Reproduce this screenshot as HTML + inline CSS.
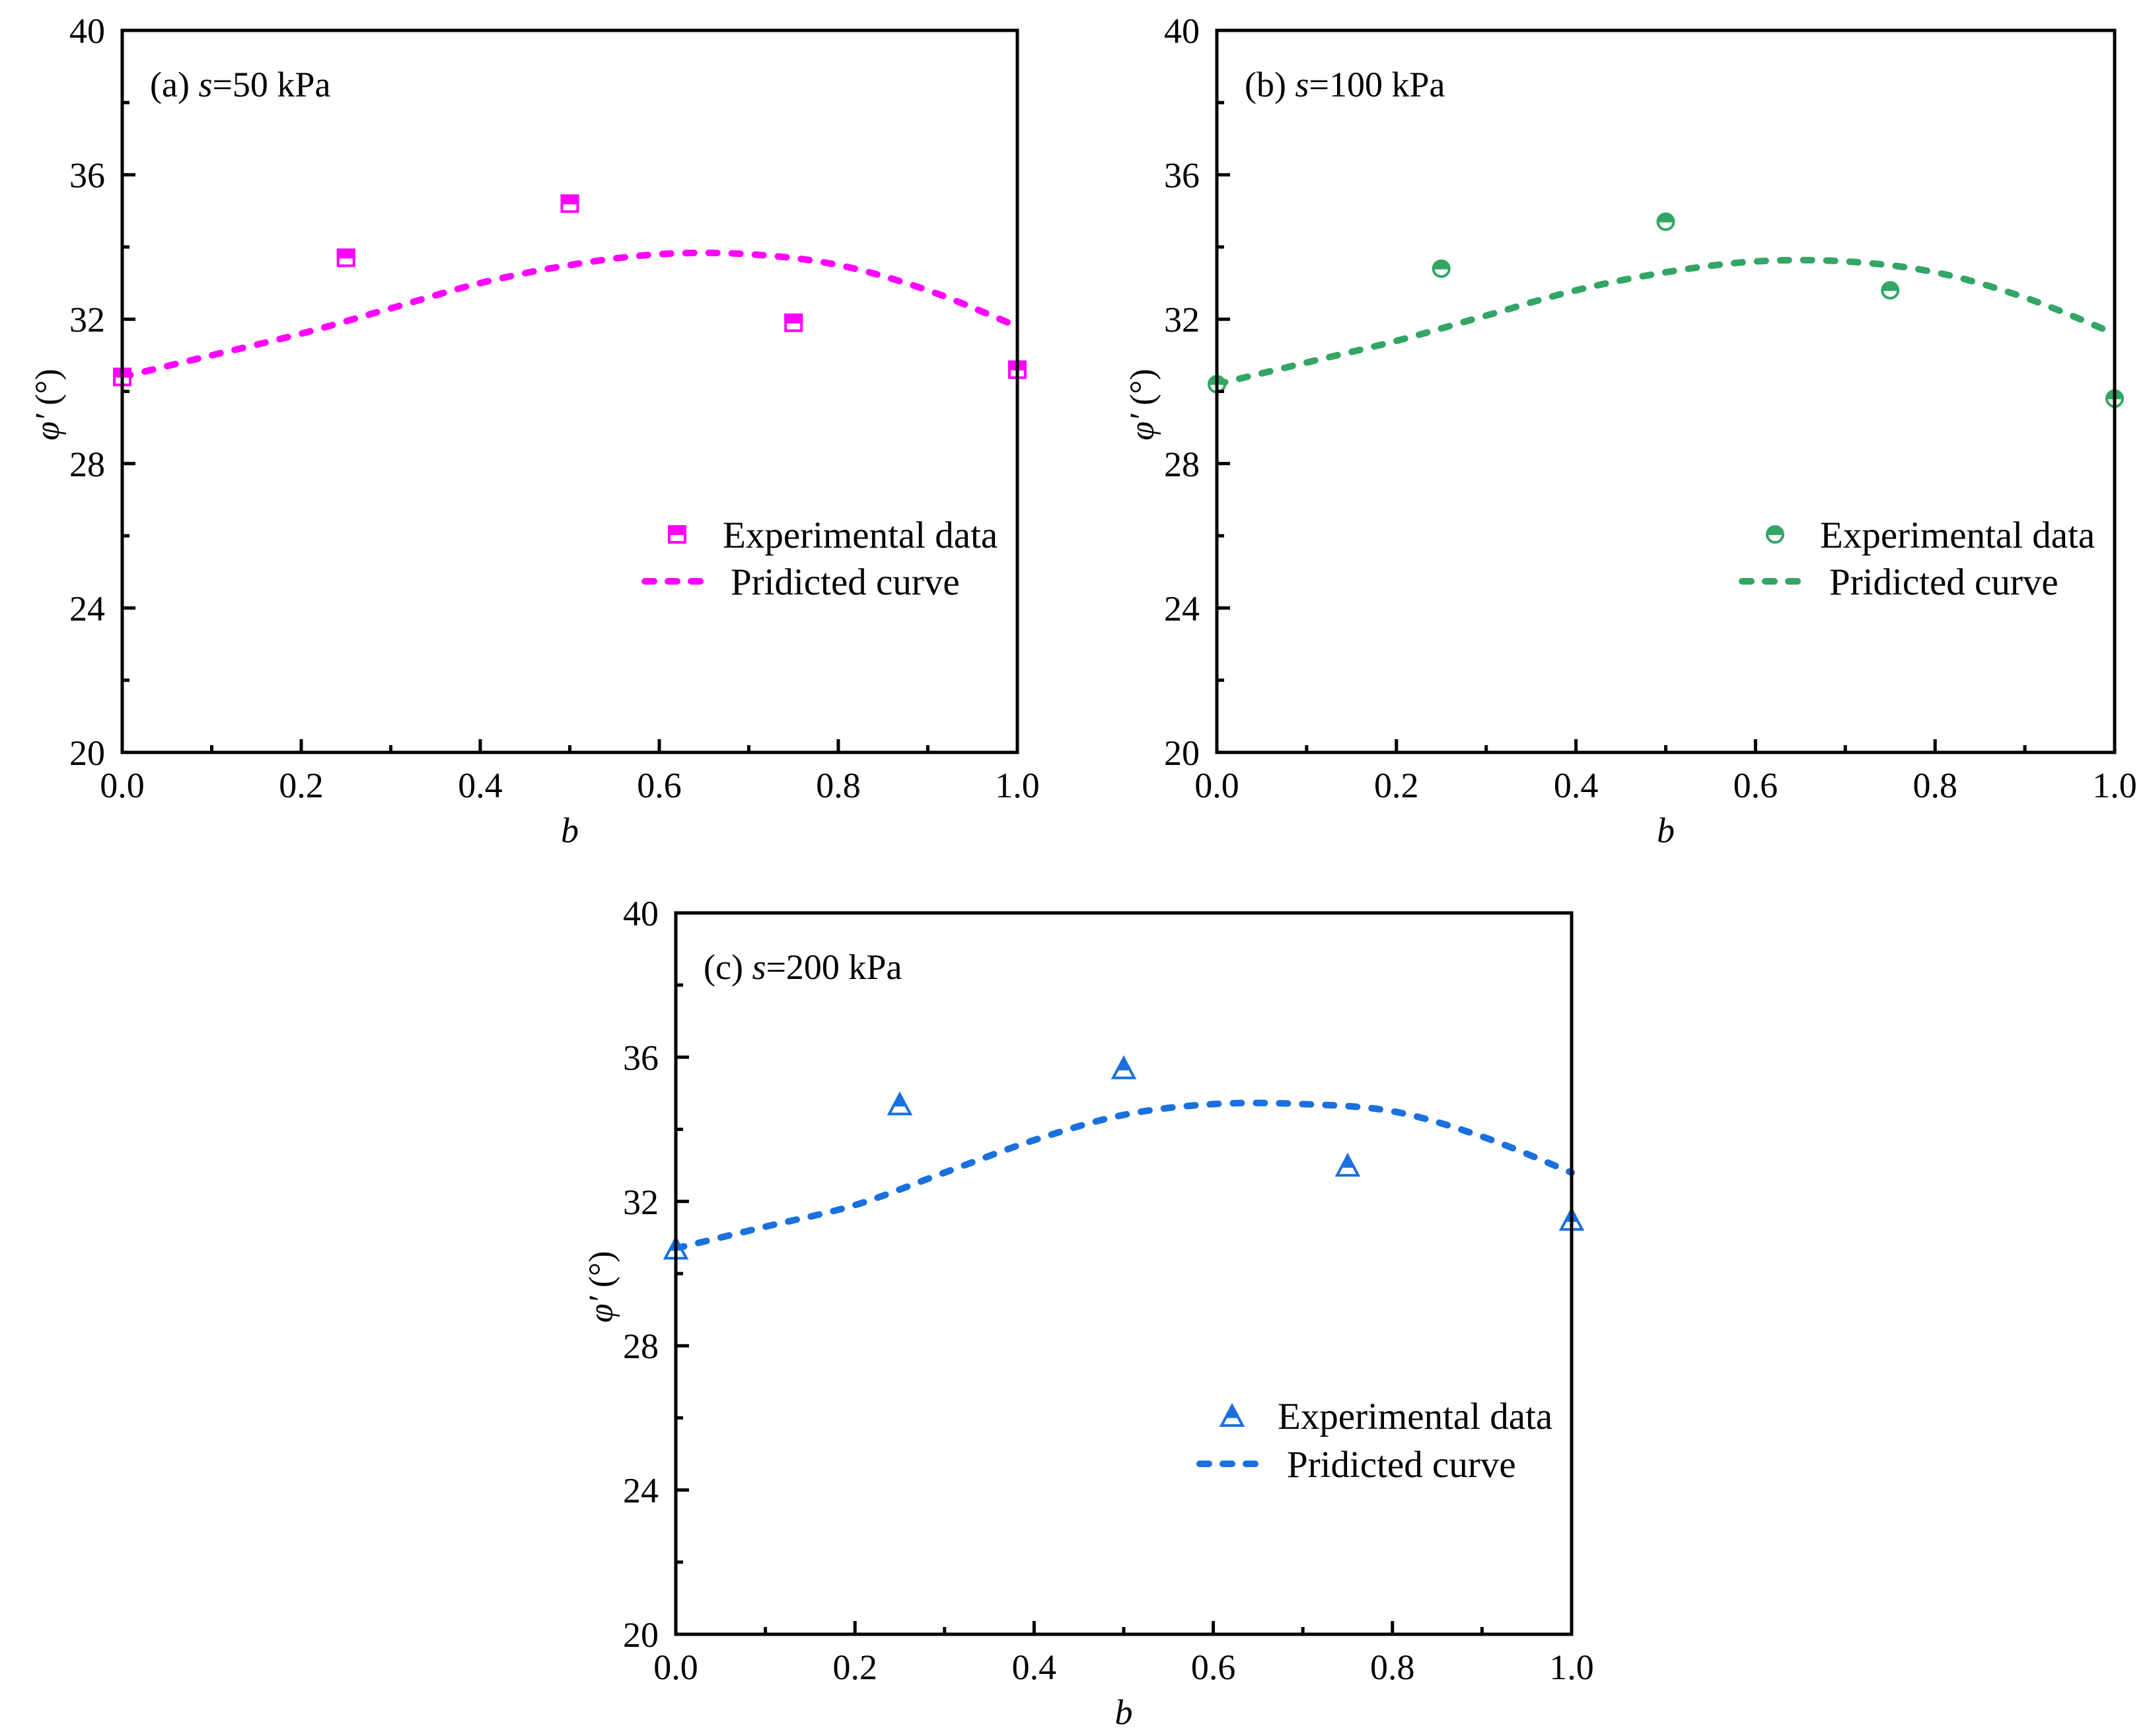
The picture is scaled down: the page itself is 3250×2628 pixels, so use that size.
<!DOCTYPE html>
<html><head><meta charset="utf-8"><style>
html,body{margin:0;padding:0;background:#fff}
svg{display:block}
text{font-family:"Liberation Serif",serif;fill:#000}
</style></head><body>
<svg id="fig" width="3250" height="2628" viewBox="0 0 3250 2628" xmlns="http://www.w3.org/2000/svg"></svg>
<script>
const xTicks=[0,0.2,0.4,0.6,0.8,1.0];
const xTickLabels=["0.0","0.2","0.4","0.6","0.8","1.0"];
const yTicks=[20,24,28,32,36,40];
const yTickLabels=["20","24","28","32","36","40"];
const expB=[0,0.25,0.5,0.75,1.0];
const expA=[30.4,33.7,35.2,31.9,30.6];
const expBb=[30.2,33.4,34.7,32.8,29.8];
const expC=[30.7,34.7,35.7,33.0,31.5];
const curveB=[0,0.1,0.2,0.3,0.4,0.5,0.6,0.7,0.8,0.9,1.0];
const curveA=[30.4,31.0,31.6,32.3,33.0,33.5,33.8,33.8,33.5,32.8,31.8];
const curveBb=[30.2,30.8,31.4,32.1,32.8,33.3,33.6,33.6,33.3,32.6,31.6];
const curveC=[30.7,31.3,31.9,32.8,33.7,34.4,34.7,34.7,34.5,33.8,32.8];

const NS="http://www.w3.org/2000/svg";
const svg=document.getElementById('fig');
function mk(tag,attrs,parent){const e=document.createElementNS(NS,tag);for(const k in attrs)e.setAttribute(k,attrs[k]);(parent||svg).appendChild(e);return e;}

const panels=[
 {id:'a',L:185,R:1540,T:46,B:1139,color:'#ff00ff',marker:'square',exp:expA,curve:curveA,title:['(a) ','s','=50 kPa'],leg:{mx:1025,my:809,tx:1094,lx1:971,lx2:1065,ly:880,tx2:1106}},
 {id:'b',L:1842,R:3201,T:46,B:1139,color:'#33a665',marker:'circle',exp:expBb,curve:curveBb,title:['(b) ','s','=100 kPa'],leg:{mx:2687,my:809,tx:2755,lx1:2632,lx2:2726,ly:880,tx2:2769}},
 {id:'c',L:1023,R:2379,T:1382,B:2474,color:'#1a70de',marker:'triangle',exp:expC,curve:curveC,title:['(c) ','s','=200 kPa'],leg:{mx:1865,my:2143,tx:1934,lx1:1811,lx2:1905,ly:2216,tx2:1948}}
];

function drawMarker(g,type,cx,cy,color,name){
  const s=14;let grp=mk('g',{},g);
  
  
  if(type==='square'){
    mk('rect',{x:cx-s+2,y:cy-s+2,width:2*s-4,height:2*s-4,fill:'#fff',stroke:color,'stroke-width':4},grp);
    mk('rect',{x:cx-s,y:cy-s,width:2*s,height:s+1,fill:color},grp);
  }else if(type==='circle'){
    mk('circle',{cx:cx,cy:cy,r:s-2,fill:'#fff',stroke:color,'stroke-width':4},grp);
    mk('path',{d:`M${cx-s} ${cy+1} A${s} ${s} 0 0 1 ${cx+s} ${cy+1} Z`,fill:color},grp);
  }else{
    const h=30,w=16;
    mk('polygon',{points:`${cx},${cy-h/2} ${cx+w},${cy+h/2} ${cx-w},${cy+h/2}`,fill:'#fff',stroke:color,'stroke-width':4},grp);
    mk('polygon',{points:`${cx},${cy-h/2} ${cx+w*0.62},${cy+h*0.12} ${cx-w*0.62},${cy+h*0.12}`,fill:color},grp);
  }
}
function smoothPath(P){
  let d=`M${P[0][0]},${P[0][1]}`;
  for(let i=0;i<P.length-1;i++){
    const p0=P[Math.max(0,i-1)],p1=P[i],p2=P[i+1],p3=P[Math.min(P.length-1,i+2)];
    const c1=[p1[0]+(p2[0]-p0[0])/6,p1[1]+(p2[1]-p0[1])/6];
    const c2=[p2[0]-(p3[0]-p1[0])/6,p2[1]-(p3[1]-p1[1])/6];
    d+=` C${c1[0]},${c1[1]} ${c2[0]},${c2[1]} ${p2[0]},${p2[1]}`;
  }
  return d;
}

panels.forEach(p=>{
  const g=mk('g',{});
  
  
  const xs=v=>p.L+(v-0)/(1-0)*(p.R-p.L);
  const ys=v=>p.B-(v-20)/(40-20)*(p.B-p.T);
  const P=curveB.map((b,i)=>[xs(b),ys(p.curve[i])]);
  const cl=mk('path',{d:smoothPath(P),fill:'none',stroke:p.color,'stroke-width':10,'stroke-dasharray':'13 22','stroke-linecap':'round','stroke-linejoin':'round'},g);
  
  
  expB.forEach((b,i)=>drawMarker(g,p.marker,xs(b),ys(p.exp[i]),p.color,'exp-point-'+p.id+'-'+i));
  const fr=mk('rect',{x:p.L,y:p.T,width:p.R-p.L,height:p.B-p.T,fill:'none',stroke:'#000','stroke-width':5},g);
  
  
  xTicks.forEach((t,i)=>{
    const x=xs(t);
    mk('line',{x1:x,y1:p.B,x2:x,y2:p.B-20,stroke:'#000','stroke-width':5},g);
    const tx=mk('text',{x:x,y:p.B+68,'font-size':54,'text-anchor':'middle'},g);
    tx.textContent=xTickLabels[i];
    
    
    if(i<xTicks.length-1){const xm=xs(t+0.1);mk('line',{x1:xm,y1:p.B,x2:xm,y2:p.B-11,stroke:'#000','stroke-width':5},g);}
  });
  yTicks.forEach((t,i)=>{
    const y=ys(t);
    mk('line',{x1:p.L,y1:y,x2:p.L+20,y2:y,stroke:'#000','stroke-width':5},g);
    const tx=mk('text',{x:p.L-26,y:y+19,'font-size':54,'text-anchor':'end'},g);
    tx.textContent=yTickLabels[i];
    
    
    if(i<yTicks.length-1){const ym=ys(t+2);mk('line',{x1:p.L,y1:ym,x2:p.L+11,y2:ym,stroke:'#000','stroke-width':5},g);}
  });
  const ttl=mk('text',{x:p.L+42,y:p.T+100,'font-size':54},g);
  
  
  const t1=mk('tspan',{},ttl);t1.textContent=p.title[0];
  const t2=mk('tspan',{'font-style':'italic'},ttl);t2.textContent=p.title[1];
  const t3=mk('tspan',{},ttl);t3.textContent=p.title[2];
  const xt=mk('text',{x:(p.L+p.R)/2,y:p.B+136,'font-size':54,'font-style':'italic','text-anchor':'middle'},g);
  xt.textContent='b';
  
  
  const yt=mk('text',{x:0,y:0,'font-size':52,'text-anchor':'middle',transform:`translate(${p.L-96},${(p.T+p.B)/2+20}) rotate(-90)`},g);
  
  
  const y1=mk('tspan',{'font-style':'italic'},yt);y1.textContent='φ′';
  const y2=mk('tspan',{},yt);y2.textContent=' (°)';
  const lg=mk('g',{},g);
  
  
  drawMarker(lg,p.marker,p.leg.mx,p.leg.my,p.color,'legend-marker');
  const l1=mk('text',{x:p.leg.tx,y:p.leg.my+20,'font-size':57},lg);l1.textContent='Experimental data';
  
  
  mk('line',{x1:p.leg.lx1+5,y1:p.leg.ly,x2:p.leg.lx2-5,y2:p.leg.ly,stroke:p.color,'stroke-width':10,'stroke-dasharray':'14 21','stroke-linecap':'round'},lg);
  const l2=mk('text',{x:p.leg.tx2,y:p.leg.ly+20,'font-size':57},lg);l2.textContent='Pridicted curve';
  
  
});
</script>
</body></html>
